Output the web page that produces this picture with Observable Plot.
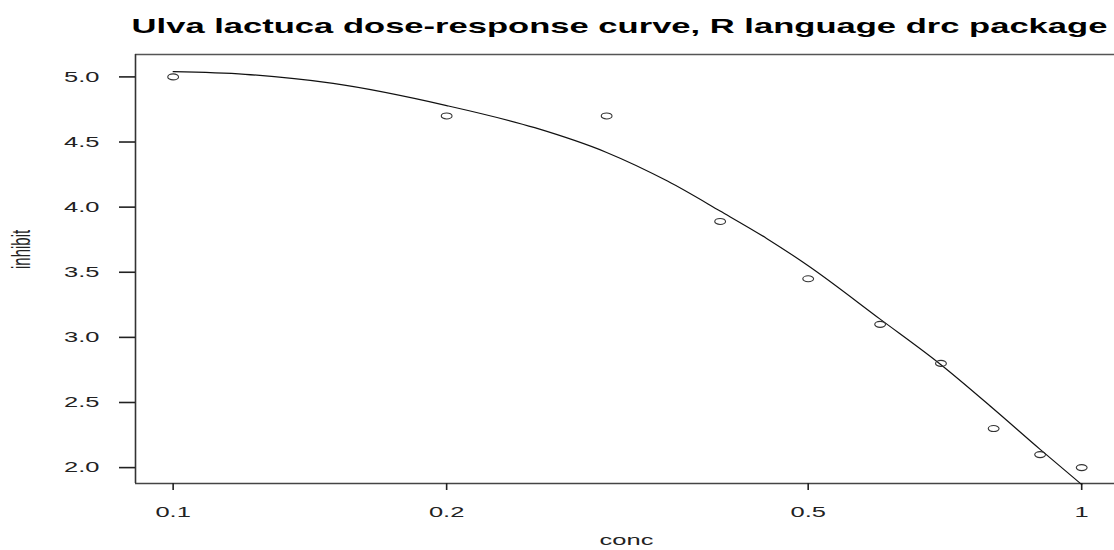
<!DOCTYPE html>
<html>
<head>
<meta charset="utf-8">
<script src="https://cdn.jsdelivr.net/npm/d3@7"></script>
<script src="https://cdn.jsdelivr.net/npm/@observablehq/plot@0.6"></script>
<style>
  html, body { margin: 0; padding: 0; background: #fff; overflow: hidden; }
  #chart { width: 1114px; height: 550px; overflow: hidden; }
  #chart svg { max-width: none !important; }
</style>
</head>
<body>
<div id="chart"></div>
<script>
// Observed data points
const conc = [0.1, 0.2, 0.3, 0.4, 0.5, 0.6, 0.7, 0.8, 0.9, 1.0];
const inhibit = [5.0, 4.7, 4.7, 3.89, 3.45, 3.1, 2.8, 2.3, 2.1, 2.0];

// Fitted curve
const curveConc = [0.1, 0.12, 0.15, 0.2, 0.25, 0.3, 0.35, 0.4, 0.45, 0.5, 0.6, 0.7, 0.8, 0.9, 1.0];
const curveInhibit = [5.04, 5.02, 4.95, 4.78, 4.61, 4.42, 4.20, 3.97, 3.76, 3.55, 3.14, 2.79, 2.45, 2.14, 1.87];

const xTicks = [0.1, 0.2, 0.5, 1];
const yTicks = [2.0, 2.5, 3.0, 3.5, 4.0, 4.5, 5.0];

// axis extents (R adds 4% on each side)
const xDomain = [0.0909, 1.095];
const yDomain = [1.878, 5.172];

const titleText = "Ulva lactuca dose-response curve, R language drc package";
const xLabel = "conc";
const yLabel = "inhibit";

const points = conc.map((c, i) => ({conc: c, inhibit: inhibit[i]}));
const curve = curveConc.map((c, i) => ({conc: c, inhibit: curveInhibit[i]}));

// horizontally stretched open circle (the reference is a widened R plot)
const ellipse = {
  draw(ctx, size) {
    const r = Math.sqrt(size / Math.PI);
    const rx = r * 1.8, ry = r, k = 0.5523;
    ctx.moveTo(rx, 0);
    ctx.bezierCurveTo(rx, ry * k, rx * k, ry, 0, ry);
    ctx.bezierCurveTo(-rx * k, ry, -rx, ry * k, -rx, 0);
    ctx.bezierCurveTo(-rx, -ry * k, -rx * k, -ry, 0, -ry);
    ctx.bezierCurveTo(rx * k, -ry, rx, -ry * k, rx, 0);
    ctx.closePath();
  }
};

const plot = Plot.plot({
  width: 1117,
  height: 550,
  marginLeft: 135,
  marginRight: 0,
  marginTop: 54,
  marginBottom: 67,
  style: {fontFamily: "'Liberation Sans', Arial, sans-serif", background: "#fff", color: "#222", maxWidth: "none"},
  x: {type: "log", domain: xDomain},
  y: {domain: yDomain},
  marks: [
    // box: top, left and bottom sides (the right side lies past the picture's edge)
    Plot.ruleY([yDomain[1]], {stroke: "#555", strokeWidth: 1.6}),
    Plot.ruleY([yDomain[0]], {stroke: "#444", strokeWidth: 1.6}),
    Plot.ruleX([xDomain[0]], {stroke: "#333", strokeWidth: 1.6}),
    Plot.axisX(xTicks, {tickSize: 7, tickPadding: 16, fontSize: 15, stroke: "#222", strokeWidth: 1.6,
      tickFormat: d => String(d), label: null}),
    Plot.axisY(yTicks, {tickSize: 16, tickPadding: 20, fontSize: 15, stroke: "#222", strokeWidth: 1.6,
      tickFormat: d3.format(".1f"), label: null}),
    Plot.line(curve, {x: "conc", y: "inhibit", stroke: "#111", strokeWidth: 1.2, curve: "monotone-x"}),
    Plot.dot(points, {x: "conc", y: "inhibit", r: 3, symbol: ellipse, stroke: "#333", fill: "none", strokeWidth: 1.1}),
    Plot.text([titleText], {frameAnchor: "top", dy: -36, dx: -7, fontSize: 20, fontWeight: "bold", fill: "#000", className: "title"}),
    Plot.text([xLabel], {frameAnchor: "bottom", dy: 61, fontSize: 15, fill: "#222", className: "xlab"}),
    Plot.text([yLabel], {frameAnchor: "left", dx: -114, rotate: -90, fontSize: 15, fill: "#222", className: "ylab"})
  ]
});

document.getElementById("chart").appendChild(plot);

// Widen glyphs horizontally (about their anchor), as in the reference picture
d3.select(plot).selectAll("text").each(function() {
  const el = this;
  const g = el.closest("g");
  const cls = g ? g.getAttribute("class") || "" : "";
  const x = +el.getAttribute("x") || 0;
  const y = +el.getAttribute("y") || 0;
  const t = el.getAttribute("transform") || "";
  let sx = 1.7, sy = 1;
  if (cls.includes("ylab")) { sx = 1; sy = 1.7; }
  else if (cls.includes("title")) { sx = 976 / el.getComputedTextLength(); }
  el.setAttribute("transform", `${t} translate(${x},${y}) scale(${sx},${sy}) translate(${-x},${-y})`);
});
</script>
</body>
</html>
